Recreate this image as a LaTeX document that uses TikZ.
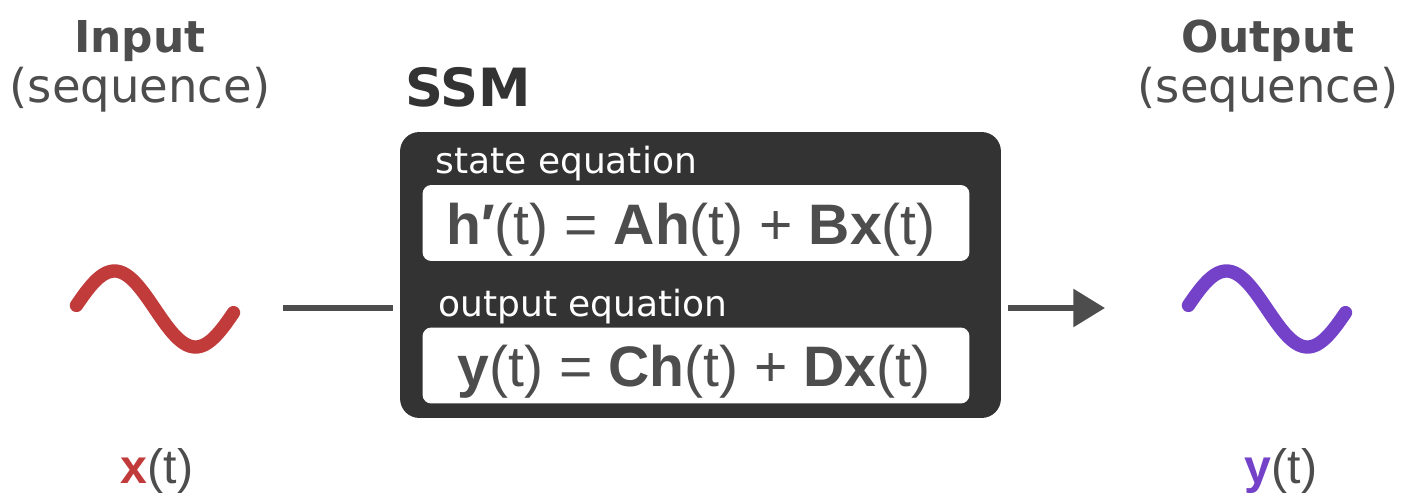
\documentclass[tikz,border=0pt]{standalone}
\usepackage{fontspec}
\setmainfont{DejaVu Sans}
\newfontfamily\eqfont{Liberation Sans}
\usepackage{xcolor}
\usetikzlibrary{arrows.meta,positioning,calc}
\definecolor{boxgray}{HTML}{333333}
\definecolor{txtgray}{HTML}{4D4D4D}
\definecolor{inred}{HTML}{C13B3B}
\definecolor{outpurple}{HTML}{7442C8}

\begin{document}
\begin{tikzpicture}[x=0.02cm,y=-0.02cm,
  title/.style={font=\fontsize{25}{30}\selectfont\bfseries,text=txtgray,anchor=base,inner sep=0},
  subtitle/.style={font=\fontsize{26.5}{31}\selectfont,text=txtgray,anchor=base,inner sep=0},
  eqlabel/.style={font=\fontsize{20.5}{24}\selectfont,text=white,anchor=base west,inner sep=0},
  eqbox/.style={fill=white,rounded corners=5pt,minimum width=10.94cm,minimum height=1.52cm,inner sep=0},
  formula/.style={font=\eqfont\fontsize{32.5}{38}\selectfont,text=txtgray,anchor=base,inner sep=0},
  signal/.style={font=\eqfont\fontsize{27.5}{32}\selectfont,text=txtgray,anchor=base,inner sep=0},
  wave/.style={line width=7.6pt,line cap=round},
  conn/.style={line width=3.4pt,draw=txtgray}]
\useasboundingbox (0,0) rectangle (1401,494);

% Input side
\node[title] (intitle) at (140,52) {Input};
\node[subtitle] (insub) at (140,102) {(sequence)};
\draw[wave,inred] plot[domain=0.03:1.97,samples=80] ({74+81*\x},{309-38*sin(180*\x)});
\node[signal] (xsig) at (157,483) {\textbf{\textcolor{inred}{x}}(t)};

% SSM block
\node[font=\fontsize{30}{35}\selectfont\bfseries,text=boxgray,anchor=base west,inner sep=0] (ssmtitle) at (405,106) {SSM};
\node[fill=boxgray,rounded corners=11pt,minimum width=12.02cm,minimum height=5.72cm,outer sep=4pt] (ssm) at (700.5,275) {};
\node[eqlabel] (statelbl) at (435,173) {state equation};
\node[eqbox] (statebox) at (696,223) {};
\node[formula] (stateeq) at (691,244) {\textbf{h\symbol{"2032}}(t) = \textbf{Ah}(t) + \textbf{Bx}(t)};
\node[eqlabel] (outlbl) at (438,316) {output equation};
\node[eqbox] (outbox) at (696,365.5) {};
\node[formula] (outeq) at (694,386) {\textbf{y}(t) = \textbf{Ch}(t) + \textbf{Dx}(t)};

% connectors
\coordinate (instart) at (283,308);
\coordinate (outtip) at (1105,308);
\draw[conn] (instart) -- (instart -| ssm.west);
\draw[conn,-{Triangle[length=18pt,width=21pt]}] (ssm.east |- outtip) -- (outtip);

% Output side
\node[title] (outtitle) at (1268,52) {Output};
\node[subtitle] (outsub) at (1268,102) {(sequence)};
\draw[wave,outpurple] plot[domain=0.03:1.97,samples=80] ({1186+81*\x},{309-38*sin(180*\x)});
\node[signal] (ysig) at (1281,483) {\textbf{\textcolor{outpurple}{y}}(t)};
\end{tikzpicture}
\end{document}
